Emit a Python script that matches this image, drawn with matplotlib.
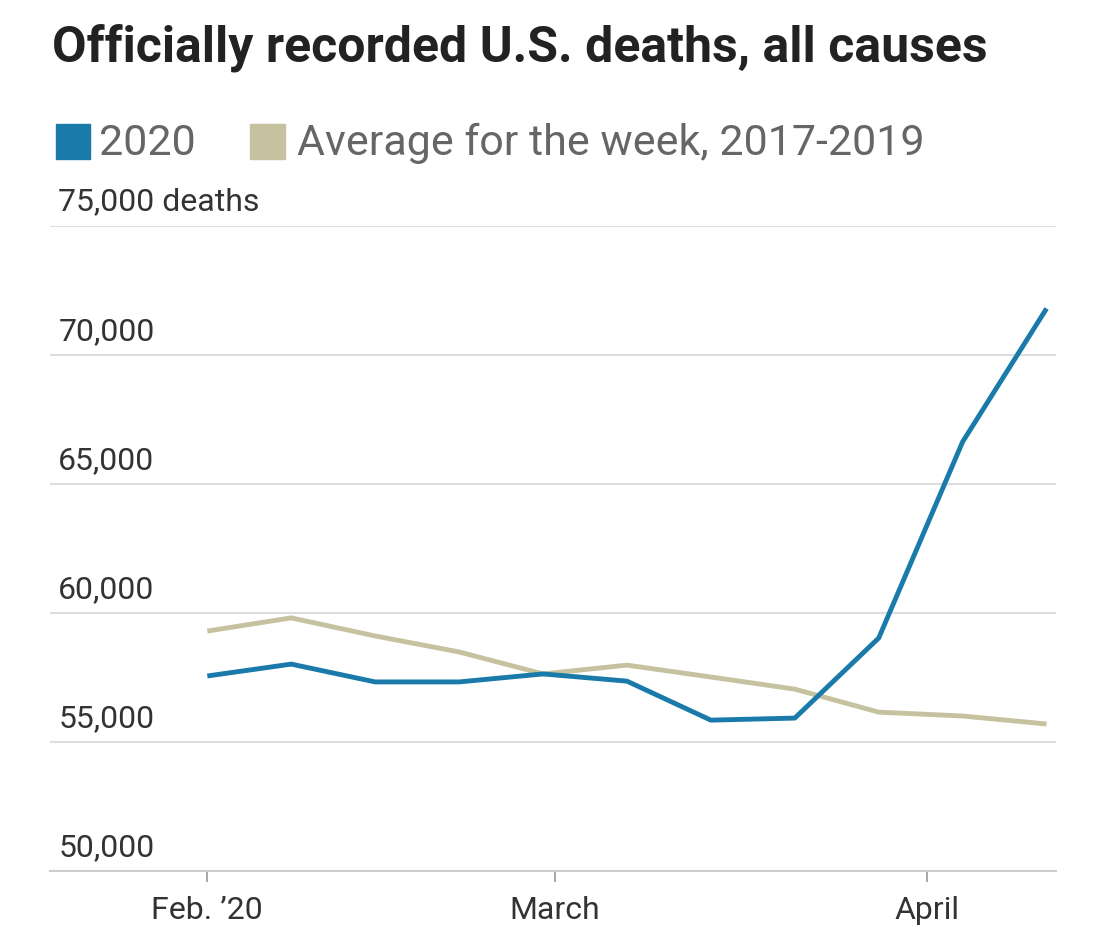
import matplotlib
matplotlib.use("Agg")
import matplotlib.pyplot as plt
import matplotlib.dates as mdates
import numpy as np
from matplotlib.patches import Rectangle

# weekly values
weeks = np.arange(np.datetime64("2020-02-01"), np.datetime64("2020-04-12"), np.timedelta64(7, "D"))
deaths_2020 = [57560, 58020, 57330, 57330, 57640, 57360, 55850, 55930, 59030, 66630, 71790]
avg_2017_2019 = [59300, 59810, 59110, 58490, 57640, 57980, 57520, 57050, 56160, 56010, 55700]
yticks = [50000, 55000, 60000, 65000, 70000, 75000]
ytick_labels = ["50,000", "55,000", "60,000", "65,000", "70,000", "75,000 deaths"]
xticks = [np.datetime64("2020-02-01"), np.datetime64("2020-03-01"), np.datetime64("2020-04-01")]
xtick_labels = ["Feb. \u201920", "March", "April"]

blue = "#1a7aaa"
tan = "#c6c2a0"
plt.rcParams["font.family"] = ["Roboto", "DejaVu Sans"]

fig = plt.figure(figsize=(11.17, 9.48), dpi=100)
ax = fig.add_axes([0.045, 0.081, 0.9, 0.681])
xd = mdates.date2num(weeks.astype("datetime64[D]").astype(object))
ax.plot(xd, avg_2017_2019, color=tan, lw=3.5, solid_capstyle="butt")
ax.plot(xd, deaths_2020, color=blue, lw=3.5, solid_capstyle="butt")

ax.set_ylim(50000, 75000)
ax.set_xlim(xd[0] - 13.1, xd[-1] + 0.75)
ax.set_yticks(yticks)
ax.set_yticklabels([])
for v, lab in zip(yticks, ytick_labels):
    ax.text(0.008, v + 350, lab, transform=ax.get_yaxis_transform(), fontsize=23,
            color="#333333", ha="left", va="bottom")
ax.tick_params(axis="y", length=0)
ax.grid(axis="y", color="#dddddd", lw=1.5)
ax.set_xticks(mdates.date2num([x.astype(object) for x in xticks]))
ax.set_xticklabels(xtick_labels, fontsize=23, color="#333333")
ax.tick_params(axis="x", length=8, width=1.2, color="#999999", pad=10)
for s in ["top", "right", "left"]:
    ax.spines[s].set_visible(False)
ax.spines["bottom"].set_color("#cccccc")
ax.spines["bottom"].set_linewidth(1.5)
ax.set_axisbelow(True)

fig.text(0.047, 0.95, "Officially recorded U.S. deaths, all causes", fontsize=36,
         fontweight="bold", color="#222222", va="center")
fig.patches.append(Rectangle((0.05, 0.832), 0.031, 0.037, transform=fig.transFigure, color=blue))
fig.text(0.089, 0.849, "2020", fontsize=31, color="#666666", va="center")
fig.patches.append(Rectangle((0.224, 0.832), 0.031, 0.037, transform=fig.transFigure, color=tan))
fig.text(0.266, 0.849, "Average for the week, 2017-2019", fontsize=31, color="#666666", va="center")

fig.savefig("out.png", dpi=100)
